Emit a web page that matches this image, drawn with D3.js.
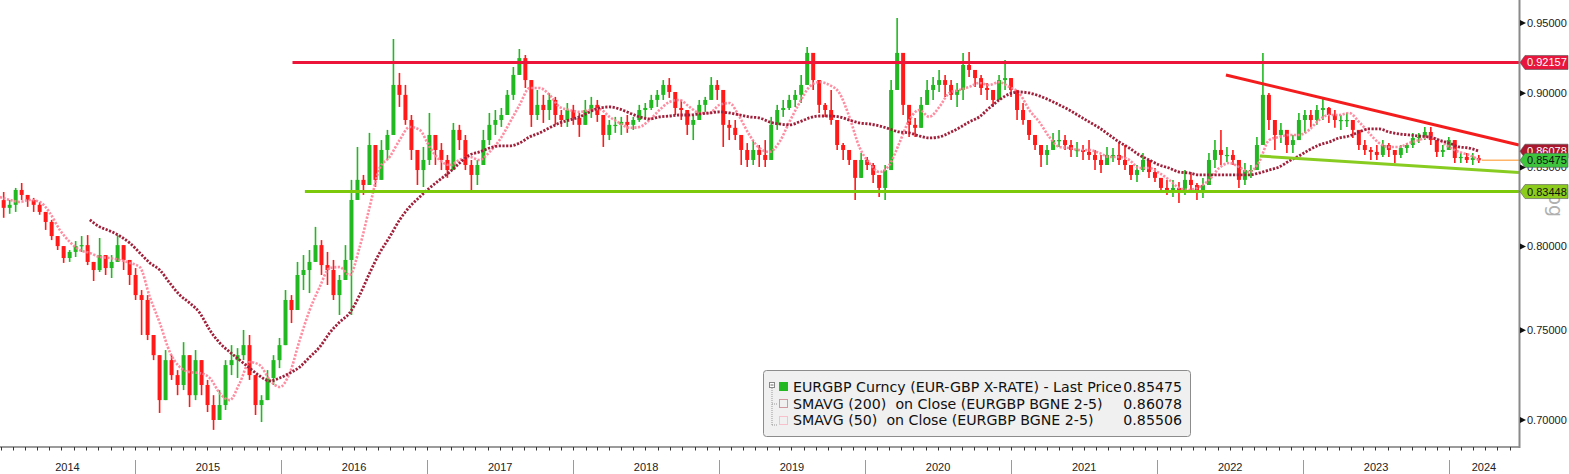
<!DOCTYPE html>
<html><head><meta charset="utf-8">
<script src="https://cdn.jsdelivr.net/npm/d3@7"></script>
<style>body{margin:0;background:#fff;}svg{display:block;}</style>
</head><body>
<svg id="c" width="1569" height="474"></svg>
<script>
// ---- data (semi-monthly candles, every 15 days from 2014-01-30) ----
const candleStart = "2014-01-30";
const candleStepDays = 15;
const firstOpen = 0.8290;
const highs = [
0.8342,0.8291,0.8368,0.8400,0.8323,0.8304,0.8278,0.8215,0.8165,0.8039,
0.7990,0.7978,0.8033,0.8064,0.8070,0.7905,0.8052,0.7947,0.7947,0.8070,
0.8008,0.7899,0.7868,0.7736,0.7706,0.7473,0.7358,0.7387,0.7358,0.7274,
0.7432,0.7302,0.7387,0.7330,0.7219,0.7135,0.7163,0.7330,0.7415,0.7398,
0.7502,0.7473,0.7246,0.7135,0.7274,0.7358,0.7456,0.7736,0.7706,0.7905,
0.7947,0.7978,0.8121,0.8039,0.7966,0.7917,0.7826,0.8008,0.8420,0.8636,
0.8452,0.8730,0.8616,0.8682,0.8750,0.9384,0.9142,0.9058,0.8851,0.8616,
0.8636,0.8865,0.8716,0.8662,0.8583,0.8797,0.8784,0.8716,0.8550,0.8550,
0.8750,0.8865,0.8885,0.8899,0.9023,0.9184,0.9312,0.9269,0.9092,0.9023,
0.8989,0.9002,0.8975,0.8885,0.8933,0.8920,0.8865,0.8954,0.8975,0.8954,
0.8831,0.8817,0.8838,0.8838,0.8851,0.8838,0.8920,0.8933,0.8989,0.9023,
0.9092,0.9106,0.8989,0.8954,0.8885,0.8851,0.8954,0.8975,0.9113,0.9092,
0.8989,0.8817,0.8817,0.8682,0.8662,0.8682,0.8649,0.8682,0.8838,0.8920,
0.8954,0.8989,0.9023,0.9128,0.9327,0.9198,0.9058,0.8933,0.9023,0.8817,
0.8662,0.8616,0.8550,0.8596,0.8570,0.8530,0.8452,0.8517,0.9092,0.9537,
0.9284,0.8920,0.8831,0.8975,0.9092,0.9113,0.9163,0.9128,0.9092,0.9072,
0.9284,0.9291,0.9163,0.9128,0.9072,0.9023,0.9128,0.9233,0.9106,0.9023,
0.8933,0.8817,0.8716,0.8649,0.8649,0.8730,0.8750,0.8716,0.8682,0.8669,
0.8649,0.8682,0.8616,0.8583,0.8636,0.8629,0.8662,0.8649,0.8517,0.8517,
0.8596,0.8550,0.8497,0.8433,0.8420,0.8420,0.8407,0.8484,0.8471,0.8400,
0.8433,0.8596,0.8682,0.8750,0.8636,0.8616,0.8550,0.8530,0.8517,0.8703,
0.9284,0.9002,0.8817,0.8797,0.8750,0.8716,0.8865,0.8885,0.8885,0.8920,
0.8968,0.8906,0.8885,0.8851,0.8865,0.8817,0.8750,0.8682,0.8636,0.8649,
0.8682,0.8662,0.8616,0.8649,0.8662,0.8730,0.8730,0.8770,0.8770,0.8649,
0.8649,0.8703,0.8616,0.8596,0.8596,0.8596,0.8583];
const lows = [
0.8178,0.8203,0.8215,0.8291,0.8247,0.8215,0.8197,0.8102,0.8039,0.7978,
0.7899,0.7905,0.7935,0.7966,0.7886,0.7790,0.7844,0.7826,0.7808,0.7929,
0.7856,0.7766,0.7677,0.7473,0.7444,0.7330,0.7038,0.7135,0.7219,0.7135,
0.7163,0.7070,0.7108,0.7135,0.7043,0.6947,0.7000,0.7054,0.7246,0.7230,
0.7330,0.7219,0.7027,0.6989,0.7108,0.7191,0.7285,0.7444,0.7542,0.7677,
0.7736,0.7718,0.7905,0.7826,0.7766,0.7677,0.7589,0.7826,0.7589,0.8323,
0.8323,0.8387,0.8374,0.8420,0.8550,0.8716,0.8906,0.8784,0.8550,0.8387,
0.8374,0.8517,0.8517,0.8484,0.8433,0.8484,0.8616,0.8484,0.8336,0.8387,
0.8517,0.8649,0.8716,0.8770,0.8851,0.8954,0.9128,0.9037,0.8770,0.8817,
0.8797,0.8817,0.8784,0.8770,0.8770,0.8784,0.8703,0.8784,0.8831,0.8804,
0.8636,0.8682,0.8730,0.8716,0.8730,0.8750,0.8804,0.8831,0.8885,0.8906,
0.8954,0.8968,0.8851,0.8817,0.8716,0.8682,0.8831,0.8872,0.8968,0.8954,
0.8636,0.8682,0.8682,0.8517,0.8504,0.8517,0.8504,0.8504,0.8616,0.8750,
0.8838,0.8885,0.8906,0.8933,0.9113,0.9023,0.8865,0.8838,0.8784,0.8616,
0.8550,0.8517,0.8291,0.8452,0.8484,0.8400,0.8310,0.8291,0.8484,0.9023,
0.8851,0.8703,0.8703,0.8784,0.8920,0.8954,0.9009,0.8975,0.8954,0.8906,
0.8954,0.9113,0.9044,0.8989,0.8954,0.8906,0.8954,0.9023,0.8975,0.8817,
0.8784,0.8682,0.8616,0.8504,0.8517,0.8616,0.8636,0.8616,0.8570,0.8570,
0.8550,0.8550,0.8484,0.8465,0.8517,0.8537,0.8517,0.8484,0.8420,0.8407,
0.8471,0.8433,0.8407,0.8336,0.8323,0.8310,0.8272,0.8323,0.8355,0.8291,
0.8304,0.8433,0.8497,0.8517,0.8537,0.8517,0.8368,0.8387,0.8433,0.8484,
0.8649,0.8750,0.8616,0.8662,0.8596,0.8596,0.8682,0.8730,0.8770,0.8784,
0.8817,0.8797,0.8764,0.8750,0.8770,0.8696,0.8616,0.8583,0.8550,0.8550,
0.8570,0.8570,0.8530,0.8563,0.8596,0.8629,0.8662,0.8682,0.8649,0.8570,
0.8570,0.8616,0.8530,0.8530,0.8530,0.8517,0.8530];
const closes = [
0.8241,0.8260,0.8355,0.8323,0.8291,0.8260,0.8215,0.8152,0.8064,0.8002,
0.7929,0.7966,0.8002,0.8008,0.7905,0.7856,0.7947,0.7868,0.7905,0.8008,
0.7917,0.7826,0.7706,0.7677,0.7473,0.7358,0.7108,0.7330,0.7246,0.7191,
0.7358,0.7135,0.7330,0.7191,0.7081,0.7000,0.7081,0.7302,0.7330,0.7358,
0.7415,0.7246,0.7081,0.7108,0.7230,0.7330,0.7415,0.7677,0.7618,0.7826,
0.7856,0.7905,0.8008,0.7886,0.7856,0.7706,0.7796,0.7917,0.8291,0.8420,
0.8387,0.8649,0.8420,0.8616,0.8716,0.9058,0.8989,0.8817,0.8616,0.8484,
0.8550,0.8716,0.8616,0.8550,0.8484,0.8750,0.8682,0.8517,0.8452,0.8517,
0.8682,0.8784,0.8817,0.8851,0.8989,0.9128,0.9247,0.9092,0.8851,0.8920,
0.8885,0.8954,0.8851,0.8817,0.8885,0.8831,0.8784,0.8885,0.8920,0.8851,
0.8716,0.8784,0.8784,0.8804,0.8784,0.8817,0.8885,0.8899,0.8954,0.8989,
0.9058,0.9009,0.8899,0.8885,0.8784,0.8817,0.8920,0.8954,0.9058,0.9023,
0.8784,0.8764,0.8716,0.8616,0.8550,0.8616,0.8583,0.8550,0.8784,0.8885,
0.8899,0.8954,0.8989,0.9058,0.9284,0.9092,0.8920,0.8885,0.8817,0.8649,
0.8616,0.8550,0.8433,0.8550,0.8517,0.8452,0.8368,0.8484,0.9023,0.9284,
0.8920,0.8784,0.8764,0.8920,0.9023,0.9058,0.9092,0.9058,0.8989,0.9023,
0.9198,0.9163,0.9106,0.9037,0.9023,0.8954,0.9092,0.9106,0.9023,0.8885,
0.8817,0.8716,0.8649,0.8583,0.8616,0.8682,0.8682,0.8649,0.8616,0.8616,
0.8603,0.8583,0.8550,0.8517,0.8583,0.8583,0.8550,0.8517,0.8452,0.8484,
0.8550,0.8471,0.8433,0.8368,0.8355,0.8368,0.8355,0.8420,0.8387,0.8342,
0.8387,0.8550,0.8616,0.8583,0.8583,0.8550,0.8420,0.8484,0.8484,0.8649,
0.8989,0.8817,0.8716,0.8750,0.8649,0.8682,0.8817,0.8851,0.8817,0.8885,
0.8899,0.8851,0.8817,0.8817,0.8817,0.8750,0.8649,0.8616,0.8603,0.8583,
0.8649,0.8616,0.8583,0.8629,0.8649,0.8696,0.8703,0.8736,0.8682,0.8603,
0.8616,0.8682,0.8563,0.8570,0.8550,0.8563,0.85475];

// moving averages, sampled every 25 days from 2014-01-28
const smaStart = "2014-01-28";
const smaStepDays = 25;
const sma200 = [
null,null,null,null,null,null,null,null,null,0.8165,
0.8121,0.8096,0.8064,0.8021,0.7960,0.7899,0.7856,0.7778,0.7706,0.7659,
0.7601,0.7502,0.7427,0.7376,0.7330,0.7285,0.7241,0.7213,0.7230,0.7257,
0.7291,0.7347,0.7404,0.7485,0.7548,0.7601,0.7706,0.7838,0.7960,0.8058,
0.8165,0.8247,0.8310,0.8368,0.8420,0.8471,0.8530,0.8583,0.8603,0.8629,
0.8643,0.8643,0.8662,0.8703,0.8730,0.8764,0.8797,0.8817,0.8838,0.8872,
0.8899,0.8906,0.8892,0.8865,0.8838,0.8824,0.8838,0.8844,0.8851,0.8851,
0.8858,0.8865,0.8872,0.8865,0.8851,0.8838,0.8831,0.8804,0.8790,0.8784,
0.8804,0.8831,0.8844,0.8844,0.8838,0.8817,0.8797,0.8790,0.8777,0.8757,
0.8736,0.8730,0.8709,0.8696,0.8703,0.8730,0.8764,0.8804,0.8838,0.8899,
0.8954,0.8995,0.9009,0.9002,0.8982,0.8954,0.8920,0.8885,0.8844,0.8804,
0.8764,0.8716,0.8669,0.8629,0.8583,0.8550,0.8517,0.8497,0.8471,0.8465,
0.8452,0.8452,0.8452,0.8452,0.8452,0.8452,0.8465,0.8484,0.8504,0.8543,
0.8577,0.8616,0.8649,0.8669,0.8696,0.8709,0.8736,0.8757,0.8757,0.8736,
0.8723,0.8716,0.8709,0.8703,0.8682,0.8662,0.8636,0.8629,0.8608];
const sma50 = [
0.8310,0.8291,0.8278,0.8291,0.8278,0.8209,0.8102,0.8027,0.7978,0.7960,
0.7935,0.7929,0.7917,0.7899,0.7874,0.7695,0.7542,0.7376,0.7291,0.7263,
0.7257,0.7230,0.7146,0.7108,0.7202,0.7319,0.7302,0.7219,0.7180,0.7257,
0.7444,0.7618,0.7754,0.7868,0.7874,0.7826,0.7996,0.8247,0.8497,0.8570,
0.8682,0.8770,0.8750,0.8636,0.8550,0.8517,0.8550,0.8570,0.8550,0.8603,
0.8682,0.8797,0.8920,0.9037,0.9037,0.8989,0.8906,0.8885,0.8872,0.8885,
0.8892,0.8838,0.8797,0.8764,0.8770,0.8817,0.8885,0.8940,0.8954,0.8906,
0.8865,0.8865,0.8920,0.8933,0.8838,0.8716,0.8629,0.8603,0.8669,0.8804,
0.8933,0.9044,0.9078,0.9058,0.9002,0.8838,0.8636,0.8530,0.8471,0.8517,
0.8662,0.8817,0.8885,0.8838,0.8906,0.9002,0.9023,0.9044,0.9072,0.9058,
0.9078,0.9044,0.9002,0.8885,0.8804,0.8703,0.8636,0.8629,0.8616,0.8616,
0.8596,0.8570,0.8570,0.8550,0.8497,0.8497,0.8465,0.8420,0.8368,0.8355,
0.8374,0.8420,0.8497,0.8530,0.8504,0.8471,0.8537,0.8682,0.8703,0.8716,
0.8716,0.8750,0.8817,0.8851,0.8851,0.8865,0.8804,0.8730,0.8662,0.8636,
0.8636,0.8662,0.8682,0.8703,0.8682,0.8636,0.8603,0.8583,0.8551];

// annotations
const resistance = {value: 0.92157, from: "2016-01-30"};
const support = {value: 0.83448, from: "2016-03-01"};
const trendDown = [["2022-06-22", 0.9128], ["2024-06-24", 0.8649]];
const trendUp = [["2022-09-15", 0.8576], ["2024-06-24", 0.8468]];
const yTicks = [0.70, 0.75, 0.80, 0.85, 0.90, 0.95];
const years = [2014,2015,2016,2017,2018,2019,2020,2021,2022,2023,2024];
const tags = [
  {value: 0.92157, label: "0.92157", fill: "#e8163c", text: "#ffffff"},
  {value: 0.86078, label: "0.86078", fill: "#a8182e", text: "#ffffff"},
  {value: 0.85475, label: "0.85475", fill: "#3cc43c", text: "#111111"},
  {value: 0.83448, label: "0.83448", fill: "#8ccc1c", text: "#111111"}
];
const legendLabels = ["EURGBP Curncy (EUR-GBP X-RATE) - Last Price", "SMAVG (200)  on Close (EURGBP BGNE 2-5)", "SMAVG (50)  on Close (EURGBP BGNE 2-5)"];
const legendValues = ["0.85475", "0.86078", "0.85506"];

// ---- drawing ----
const P = d3.utcParse("%Y-%m-%d");
const svg = d3.select("#c");
const plotR = 1519, axisY = 447;
const x = d3.scaleUtc().domain([new Date(Date.UTC(2015,0,1)), new Date(Date.UTC(2024,0,1))]).range([135, 1449]);
const y = d3.scaleLog().domain([0.70, 0.95]).range([420, 23]);
const xEnd = x.invert(plotR);

svg.append("defs").append("clipPath").attr("id","plot")
  .append("rect").attr("x",0).attr("y",0).attr("width",plotR).attr("height",axisY);

const up = "#22b822", down = "#ff1a1a";
const cStart = P(candleStart);
const candles = closes.map((c,i)=>({
  t0: d3.utcDay.offset(cStart, candleStepDays*i),
  t1: d3.utcDay.offset(cStart, candleStepDays*(i+1)),
  o: i===0 ? firstOpen : closes[i-1], h: highs[i], l: lows[i], c
}));
const gC = svg.append("g").attr("clip-path","url(#plot)");
const cg = gC.selectAll("g.k").data(candles).join("g");
cg.append("line")
  .attr("x1", d=>(x(d.t0)+x(d.t1))/2).attr("x2", d=>(x(d.t0)+x(d.t1))/2)
  .attr("y1", d=>y(Math.max(d.h,d.o,d.c))).attr("y2", d=>y(Math.min(d.l,d.o,d.c)))
  .attr("stroke", d=>d.c>=d.o?up:down).attr("stroke-width",1.6);
cg.append("rect")
  .attr("x", d=>x(d.t0)+1).attr("width", d=>x(d.t1)-x(d.t0)-2)
  .attr("y", d=>y(Math.max(d.o,d.c)))
  .attr("height", d=>Math.max(1.2, Math.abs(y(d.o)-y(d.c))))
  .attr("fill", d=>d.c>=d.o?up:down);

// SMAs
const sStart = P(smaStart);
const smaLine = d3.line().defined(d=>d.v!=null).x(d=>x(d.t)).y(d=>y(d.v)).curve(d3.curveMonotoneX);
function smaPts(arr){ return arr.map((v,k)=>({t:d3.utcDay.offset(sStart, smaStepDays*k), v})); }
gC.append("path").attr("d", smaLine(smaPts(sma50))).attr("fill","none")
  .attr("stroke","#ff8096").attr("stroke-width",2.6).attr("stroke-dasharray","2.2,1.5").attr("opacity",0.9);
gC.append("path").attr("d", smaLine(smaPts(sma200))).attr("fill","none")
  .attr("stroke","#a01f3a").attr("stroke-width",2.8).attr("stroke-dasharray","2.2,1.5");

// last price line
const lastT = candles[candles.length-1].t1;
svg.append("line").attr("x1", x(lastT)).attr("x2", plotR)
  .attr("y1", y(closes[closes.length-1])).attr("y2", y(closes[closes.length-1]))
  .attr("stroke","#ffb468").attr("stroke-width",1.5);

// horizontal levels
svg.append("line").attr("x1", x(P(resistance.from))).attr("x2", plotR)
  .attr("y1", y(resistance.value)).attr("y2", y(resistance.value))
  .attr("stroke","#ec1438").attr("stroke-width",3);
svg.append("line").attr("x1", x(P(support.from))).attr("x2", plotR)
  .attr("y1", y(support.value)).attr("y2", y(support.value))
  .attr("stroke","#7cc80a").attr("stroke-width",3);
// trend lines
const tl = d3.line().x(d=>x(P(d[0]))).y(d=>y(d[1]));
svg.append("path").attr("d", tl(trendDown)).attr("stroke","#f41c1c").attr("stroke-width",3).attr("fill","none");
svg.append("path").attr("d", tl(trendUp)).attr("stroke","#88cc22").attr("stroke-width",3).attr("fill","none");

// axes
svg.append("line").attr("x1",0).attr("x2",plotR+1).attr("y1",axisY).attr("y2",axisY).attr("stroke","#7a7a7a").attr("stroke-width",1.5);
svg.append("line").attr("x1",plotR+0.5).attr("x2",plotR+0.5).attr("y1",0).attr("y2",axisY+1).attr("stroke","#8a8a8a").attr("stroke-width",2);
const months = d3.utcMonth.range(x.invert(0), xEnd);
svg.selectAll("line.mt").data(months).join("line")
  .attr("x1", d=>Math.round(x(d))+0.5).attr("x2", d=>Math.round(x(d))+0.5)
  .attr("y1", axisY).attr("y2", axisY+3.5).attr("stroke","#333").attr("stroke-width",1);
years.forEach(yr=>{
  const a = x(new Date(Date.UTC(yr,0,1))), b = x(new Date(Date.UTC(yr+1,0,1)));
  if (yr>2014) svg.append("line").attr("x1",Math.round(a)+0.5).attr("x2",Math.round(a)+0.5)
      .attr("y1",460).attr("y2",474).attr("stroke","#9a9a9a").attr("stroke-width",1);
  const ca = Math.max(0,a), cb = Math.min(plotR,b);
  svg.append("text").attr("x",(ca+cb)/2).attr("y",471).attr("text-anchor","middle")
    .attr("font-family","Liberation Sans, Arial, sans-serif").attr("font-size",11).attr("fill","#222").text(yr);
});
const fmt = d3.format(".5f");
yTicks.forEach(v=>{
  const yy = y(v);
  svg.append("path").attr("d",`M${plotR+1},${yy-3}L${plotR+7},${yy}L${plotR+1},${yy+3}Z`).attr("fill","#111");
  svg.append("text").attr("x",plotR+8).attr("y",yy).attr("dy","0.35em")
    .attr("font-family","Liberation Sans, Arial, sans-serif").attr("font-size",11).attr("fill","#1a1a1a").text(fmt(v));
});

// watermark
svg.append("text").attr("transform","translate(1549,193) rotate(90)")
  .attr("font-family","DejaVu Sans, sans-serif").attr("font-size",19).attr("fill","#b0b0b0").text("bg");

// tags
tags.forEach(t=>{
  const yy = y(t.value);
  svg.append("path").attr("d",`M${plotR+1},${yy}L${plotR+6},${yy-7}L1568,${yy-7}L1568,${yy+7}L${plotR+6},${yy+7}Z`)
    .attr("fill",t.fill).attr("stroke","#555").attr("stroke-width",0.6);
  svg.append("text").attr("x",plotR+8).attr("y",yy).attr("dy","0.36em")
    .attr("font-family","Liberation Sans, Arial, sans-serif").attr("font-size",11).attr("fill",t.text).text(t.label);
});

// legend
const lg = svg.append("g");
lg.append("rect").attr("x",763.5).attr("y",370.5).attr("width",427).attr("height",66).attr("rx",3)
  .attr("fill","#f0f0f0").attr("stroke","#8c8c8c");
lg.append("rect").attr("x",769.5).attr("y",382.5).attr("width",5).attr("height",5).attr("fill","#fff").attr("stroke","#888");
lg.append("line").attr("x1",770.5).attr("x2",773.5).attr("y1",385).attr("y2",385).attr("stroke","#666");
lg.append("path").attr("d","M772,388V425M772,404H778M772,425H778").attr("fill","none")
  .attr("stroke","#999").attr("stroke-dasharray","1,1");
lg.append("rect").attr("x",779).attr("y",382).attr("width",9).attr("height",9).attr("fill",up);
lg.append("rect").attr("x",779.5).attr("y",399.5).attr("width",8).attr("height",8).attr("fill","none")
  .attr("stroke","#b04050").attr("stroke-dasharray","1,1");
lg.append("rect").attr("x",779.5).attr("y",416.5).attr("width",8).attr("height",8).attr("fill","none")
  .attr("stroke","#ff90a4").attr("stroke-dasharray","1,1");
legendLabels.forEach((s,i)=>{
  lg.append("text").attr("x",793).attr("y",392+i*16.7).attr("xml:space","preserve").style("white-space","pre")
    .attr("font-family","DejaVu Sans, sans-serif").attr("font-size",14.2).attr("fill","#111").text(s);
  lg.append("text").attr("x",1182).attr("y",392+i*16.7).attr("text-anchor","end")
    .attr("font-family","DejaVu Sans, sans-serif").attr("font-size",14.2).attr("fill","#111").text(legendValues[i]);
});
</script>
</body></html>
